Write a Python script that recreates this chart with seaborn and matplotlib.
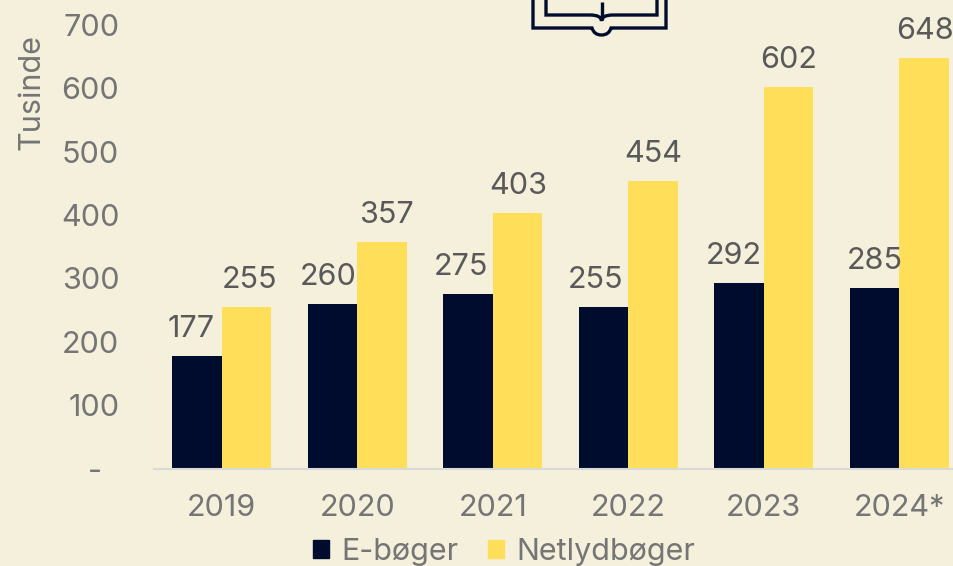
import matplotlib
matplotlib.use("Agg")
import matplotlib.pyplot as plt
from matplotlib.patches import Patch, PathPatch
from matplotlib.path import Path
from matplotlib.transforms import Affine2D
import pandas as pd
import seaborn as sns

years = ["2019", "2020", "2021", "2022", "2023", "2024*"]
ebooks = [177, 260, 275, 255, 292, 285]
audiobooks = [255, 357, 403, 454, 602, 648]
series_names = ["E-bøger", "Netlydbøger"]
yticks = [0, 100, 200, 300, 400, 500, 600, 700]
ytick_labels = ["-  ", "100", "200", "300", "400", "500", "600", "700"]

BG = "#F5F0DC"
NAVY = "#000C2D"
YELLOW = "#FFDF5A"
GREY = "#757575"
LABEL = "#595959"
W, H = 954, 566
FS = 22

sns.set_theme(style="white")
plt.rcParams["font.family"] = ["Inter", "DejaVu Sans"]

df = pd.DataFrame({
    "year": years * 2,
    "value": ebooks + audiobooks,
    "series": [series_names[0]] * 6 + [series_names[1]] * 6,
})

fig = plt.figure(figsize=(W / 100, H / 100), dpi=100, facecolor=BG)
ax = fig.add_axes([154 / W, (H - 468.7) / H, 813 / W, 444 / H], facecolor=BG)
sns.barplot(data=df, x="year", y="value", hue="series", order=years,
            hue_order=series_names, palette=[NAVY, YELLOW], width=0.73,
            saturation=1, legend=False, ax=ax, linewidth=0, errorbar=None)
ax.set_xlim(-0.5, 5.5)
ax.set_ylim(0, 700)
ax.set_yticks(yticks, ytick_labels)
ax.set_xlabel("")
ax.set_ylabel("")
ax.tick_params(axis="both", length=0, labelsize=FS, labelcolor=GREY)
ax.tick_params(axis="y", pad=25)
ax.tick_params(axis="x", pad=18)
for s in ["top", "right", "left"]:
    ax.spines[s].set_visible(False)
ax.spines["bottom"].set_color("#D9D9D9")
ax.spines["bottom"].set_linewidth(1.5)

fig.text(32 / W, (H - 92) / H, "Tusinde", rotation=90, ha="center", va="center",
         color=GREY, fontsize=FS)

nudge_e = [-6, -4, -7, -8, -5, 0]
nudge_a = [3, 4, 1, 0, 0, 1]
for c, vals, nudges in zip(ax.containers, [ebooks, audiobooks], [nudge_e, nudge_a]):
    for bar, v, dx in zip(c, vals, nudges):
        ax.annotate(str(v), (bar.get_x() + bar.get_width() / 2, v),
                    xytext=(dx, 27), textcoords="offset pixels", ha="center",
                    va="center", color=LABEL, fontsize=FS, annotation_clip=False)

leg = fig.legend(handles=[Patch(color=NAVY), Patch(color=YELLOW)], labels=series_names,
                 loc="center", bbox_to_anchor=(504 / W, (H - 552) / H), ncol=2, frameon=False,
                 fontsize=FS, labelcolor=GREY, handlelength=0.53, handleheight=0.53,
                 handletextpad=0.4, columnspacing=0.95, borderpad=0, borderaxespad=0)

# Book icon (decoration, pixel coordinates with origin at top-left)
px = Affine2D().scale(1, -1).translate(0, H)
def stroke(verts, codes=None):
    fig.add_artist(PathPatch(Path(verts, codes), fc="none", ec=NAVY, lw=2.4,
                             transform=px, capstyle="butt", joinstyle="miter"))
C = Path.CURVE3; M = Path.MOVETO; L = Path.LINETO
stroke([(533, -2), (533, 28), (592, 28), (594, 35), (601.5, 35), (609, 35), (611, 28), (666, 28), (666, -2)],
       [M, L, L, C, C, C, C, L, L])
stroke([(546, -2), (546, 15), (590, 15), (601.5, 15), (601.5, 21), (601.5, 15), (613, 15), (657, 15), (657, -2)],
       [M, L, L, C, C, C, C, L, L])
stroke([(601.5, 2), (601.5, 20)], [M, L])

fig.savefig("out.png", dpi=100, facecolor=BG)
